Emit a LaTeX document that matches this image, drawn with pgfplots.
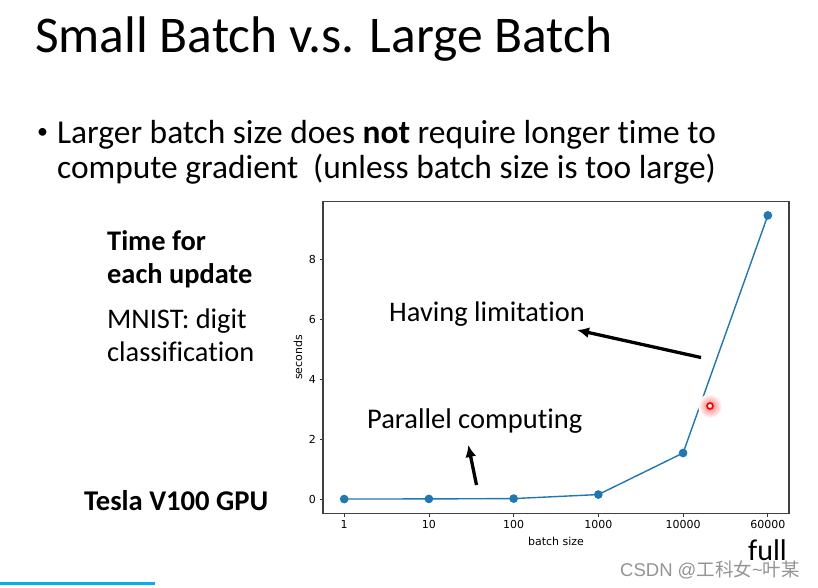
\documentclass[border=0pt]{standalone}
\usepackage{fontspec}
\setmainfont{Carlito}[Ligatures={NoCommon}]
\newfontfamily\dejavu{DejaVu Sans}
\newfontfamily\arial{Liberation Sans}
\newfontfamily\cjk{Noto Sans CJK SC}
\usepackage{pgfplots}
\pgfplotsset{compat=1.18}
\usetikzlibrary{arrows.meta}
\definecolor{mplblue}{HTML}{1F77B4}
\definecolor{barblue}{HTML}{00B0F0}
\newcommand{\fs}[1]{\fontsize{#1}{#1}\selectfont}
\begin{document}
\begin{tikzpicture}[x=1pt,y=1pt]
\path[fill=white] (0pt,0pt) rectangle (818pt,587pt);
\begin{axis}[
  at={(323pt,73.7pt)}, anchor=south west,
  scale only axis, width=466pt, height=312pt,
  xmin=-0.25, xmax=5.25, ymin=-0.47, ymax=9.93,
  xtick={0,1,2,3,4,5},
  xticklabels={1,10,100,1000,10000,60000},
  ytick={0,2,4,6,8},
  tick align=outside, xtick pos=lower, ytick pos=left,
  major tick length=3.5pt,
  tick style={black!80, line width=0.8pt},
  axis line style={black!75, line width=1.1pt},
  /pgf/number format/assume math mode=true,
  tick label style={font=\dejavu\fs{11}},
  xlabel={batch size}, ylabel={seconds},
  label style={font=\dejavu\fs{11}},
  xlabel style={at={(axis description cs:0.5,-0.1026)}, anchor=base},
  ylabel style={at={(axis description cs:-0.0536,0.5)}, anchor=center},
  clip=false,
]
\addplot[mplblue, line width=1.4pt, mark=*, mark size=3.6pt, mark options={fill=mplblue, draw=mplblue}]
  coordinates {(0,0.005) (1,0.01) (2,0.02) (3,0.155) (4,1.54) (5,9.46)};
\end{axis}
% slide text
\node[anchor=base west, inner sep=0] at (35pt,534pt) {\fs{51.5}Small Batch v.s. Large Batch};
\node[anchor=base west, inner sep=0] at (37pt,448pt) {\fs{22}\textbullet};
\node[anchor=base west, inner sep=0] at (57pt,443pt) {\fs{33.4}Larger batch size does \textbf{not} require longer time to};
\node[anchor=base west, inner sep=0] at (57pt,408pt) {\fs{33.4}compute gradient};
\node[anchor=base west, inner sep=0] at (313pt,408pt) {\fs{33.4}(unless batch size is too large)};
\node[anchor=base west, inner sep=0] at (107pt,337pt) {\fs{28.4}\bfseries Time for};
\node[anchor=base west, inner sep=0] at (107pt,304pt) {\fs{28.4}\bfseries each update};
\node[anchor=base west, inner sep=0] at (107pt,259pt) {\fs{28.4}MNIST: digit};
\node[anchor=base west, inner sep=0] at (107pt,226pt) {\fs{28.4}classification};
\node[anchor=base west, inner sep=0] at (84pt,77pt) {\fs{28.6}\bfseries Tesla V100 GPU};
\node[anchor=base west, inner sep=0] at (389pt,266pt) {\fs{28.4}Having limitation};
\node[anchor=base west, inner sep=0] at (367pt,159pt) {\fs{28.5}Parallel computing};
\node[anchor=base west, inner sep=0] at (748pt,27pt) {\fs{30}full};
% arrows
\draw[line width=3.3pt, -{Latex[length=12pt,width=11pt]}] (701pt,229.5pt) -- (577pt,257pt);
\draw[line width=3.3pt, -{Latex[length=12pt,width=11pt]}] (476.5pt,102pt) -- (468.3pt,142pt);
% cursor highlight
\shade[inner color=red!55, outer color=white] (710pt,181pt) circle (12pt);
\draw[red, line width=1.7pt, fill=white] (710pt,181pt) circle (3pt);
% watermark and bar
\node[anchor=base west, inner sep=0, text=black!42] at (620pt,11pt) {\arial\fs{18.5}CSDN @\cjk 工科女\arial\textasciitilde\cjk 叶某};
\fill[barblue] (0pt,2pt) rectangle (155pt,5pt);
\end{tikzpicture}
\end{document}
